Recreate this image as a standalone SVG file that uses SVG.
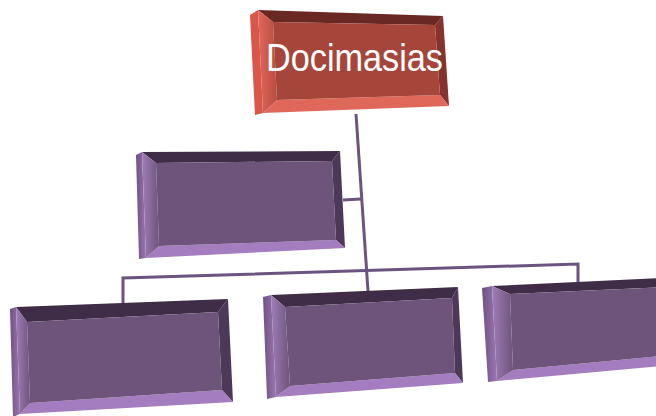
<svg xmlns="http://www.w3.org/2000/svg" width="656" height="416" viewBox="0 0 656 416">
<defs>
<linearGradient id="gPleft" x1="0" y1="0" x2="1" y2="0">
<stop offset="0" stop-color="#a07cb8"/>
<stop offset="1" stop-color="#6e547a"/>
</linearGradient>
<linearGradient id="gPside" x1="0" y1="0" x2="1" y2="0">
<stop offset="0" stop-color="#6f5280"/>
<stop offset="1" stop-color="#9a76b2"/>
</linearGradient>
<linearGradient id="gRleft" x1="0" y1="0" x2="1" y2="0">
<stop offset="0" stop-color="#e2675a"/>
<stop offset="1" stop-color="#b84c40"/>
</linearGradient>
</defs>
<style>
.pside{fill:url(#gPside)}
.ptop{fill:#3f2d48}
.pright{fill:#4c3858}
.pbot{fill:#a47cc0}
.pleft{fill:url(#gPleft)}
.pface{fill:#6e547a}
.rside{fill:#d8574a}
.rtop{fill:#6a2823}
.rright{fill:#86332d}
.rbot{fill:#e0685a}
.rleft{fill:url(#gRleft)}
.rface{fill:#a6463b}
.conn{fill:none;stroke:#6c5480;stroke-width:3;stroke-linejoin:miter}
.lbl{font-family:"Liberation Sans",Arial,sans-serif;font-size:38px;fill:#ffffff}
</style>
<rect width="656" height="416" fill="#ffffff"/>
<g id="connectors">
<path class="conn" d="M356,114 L368,291"/>
<path class="conn" d="M343,200 L361,199"/>
<path class="conn" d="M123,303 L123,278 L578,264 L578,283"/>
</g>
<g id="node-docimasias">
<polygon class="rside" points="250,15 258,10 263,113 255,115"/>
<polygon class="rtop" points="258,10 443,16 435,25 273,22"/>
<polygon class="rright" points="443,16 449,106 440,95 435,25"/>
<polygon class="rbot" points="449,106 263,113 277,100 440,95"/>
<polygon class="rleft" points="263,113 258,10 273,22 277,100"/>
<polygon class="rface" points="273,22 435,25 440,95 277,100"/>
<text class="lbl" x="266" y="71" textLength="177" lengthAdjust="spacingAndGlyphs">Docimasias</text>
</g>
<g id="node-mid-left">
<polygon class="pside" points="136,155 142,152 146,258 139,259"/>
<polygon class="ptop" points="142,152 340,151 332,161 156,163"/>
<polygon class="pright" points="340,151 345,248 336,240 332,161"/>
<polygon class="pbot" points="345,248 146,258 159,246 336,240"/>
<polygon class="pleft" points="146,258 142,152 156,163 159,246"/>
<polygon class="pface" points="156,163 332,161 336,240 159,246"/>
</g>
<g id="node-bottom-left">
<polygon class="pside" points="10,309 16,307 20,414 13,417"/>
<polygon class="ptop" points="16,307 228,299 218,312 27,322"/>
<polygon class="pright" points="228,299 233,402 222,390 218,312"/>
<polygon class="pbot" points="233,402 20,414 30,403 222,390"/>
<polygon class="pleft" points="20,414 16,307 27,322 30,403"/>
<polygon class="pface" points="27,322 218,312 222,390 30,403"/>
</g>
<g id="node-bottom-mid">
<polygon class="pside" points="263,297 271,295 276,397 267,399"/>
<polygon class="ptop" points="271,295 458,287 452,298 285,307"/>
<polygon class="pright" points="458,287 463,383 455,373 452,298"/>
<polygon class="pbot" points="463,383 276,397 290,386 455,373"/>
<polygon class="pleft" points="276,397 271,295 285,307 290,386"/>
<polygon class="pface" points="285,307 452,298 455,373 290,386"/>
</g>
<g id="node-bottom-right">
<polygon class="pside" points="482,288 492,286 497,381 488,382"/>
<polygon class="ptop" points="492,286 680,277 670,287 510,294"/>
<polygon class="pright" points="680,277 685,364 672,355 670,287"/>
<polygon class="pbot" points="685,364 497,381 513,370 672,355"/>
<polygon class="pleft" points="497,381 492,286 510,294 513,370"/>
<polygon class="pface" points="510,294 670,287 672,355 513,370"/>
</g>
</svg>
